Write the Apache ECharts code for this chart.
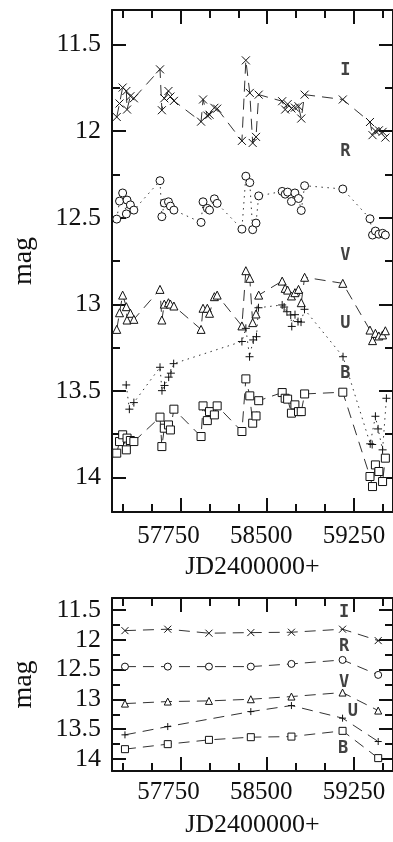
<!DOCTYPE html>
<html>
<head>
<meta charset="utf-8">
<script src="https://cdn.jsdelivr.net/npm/echarts@6/dist/echarts.min.js"></script>
<style>
html, body { margin: 0; padding: 0; background: #fff; }
#chart { width: 393px; height: 842px; }
</style>
</head>
<body>
<div id="chart"></div>
<script>
// nights observed in U B V R I (top panel); U has its own list
var jd = [57199, 57223, 57250, 57282, 57288, 57317, 57347,
  57573, 57589, 57610, 57646, 57663, 57693,
  57928, 57945, 57982, 58001, 58043, 58067,
  58281, 58315, 58349, 58374, 58403, 58426,
  58629, 58655, 58676, 58709, 58739, 58770, 58794, 58823,
  59153,
  59388, 59410, 59435, 59465, 59497, 59521];
var magI = [11.918, 11.84, 11.748, 11.768, 11.875, 11.798, 11.81,
  11.643, 11.879, 11.81, 11.768, 11.80, 11.825,
  11.945, 11.817, 11.91, 11.905, 11.865, 11.87,
  12.056, 11.591, 11.779, 12.068, 12.033, 11.789,
  11.827, 11.875, 11.844, 11.869, 11.864, 11.856, 11.927, 11.789,
  11.817,
  11.947, 12.023, 11.999, 11.995, 12.004, 12.037];
var magR = [12.508, 12.404, 12.357, 12.478, 12.398, 12.426, 12.456,
  12.286, 12.494, 12.415, 12.408, 12.433, 12.456,
  12.527, 12.408, 12.446, 12.456, 12.391, 12.417,
  12.566, 12.26, 12.297, 12.569, 12.531, 12.374,
  12.348, 12.364, 12.352, 12.406, 12.357, 12.389, 12.458, 12.315,
  12.334,
  12.506, 12.60, 12.577, 12.595, 12.59, 12.60];
var magV = [13.145, 13.049, 12.947, 13.014, 13.091, 13.052, 13.087,
  12.914, 13.091, 12.999, 12.991, 12.999, 13.01,
  13.145, 13.023, 13.023, 13.052, 12.956, 12.947,
  13.125, 12.806, 12.85, 13.106, 13.056, 12.947,
  12.866, 12.908, 12.918, 12.952, 12.933, 12.914, 12.991, 12.844,
  12.879,
  13.149, 13.21, 13.168, 13.183, 13.177, 13.153];
var magB = [13.86, 13.793, 13.754, 13.841, 13.773, 13.787, 13.793,
  13.652, 13.822, 13.716, 13.697, 13.726, 13.606,
  13.764, 13.587, 13.672, 13.62, 13.639, 13.587,
  13.735, 13.431, 13.529, 13.687, 13.645, 13.557,
  13.51, 13.543, 13.548, 13.629, 13.581, 13.62, 13.62, 13.518,
  13.508,
  13.995, 14.053, 13.928, 13.966, 14.024, 13.889];
var jdU = [57281, 57308, 57347, 57573, 57590, 57612, 57648, 57667, 57691,
  58281, 58315, 58347, 58379, 58407, 58424,
  58629, 58646, 58670, 58703, 58712, 58740, 58766, 58792, 58822,
  59155,
  59390, 59407, 59435, 59458, 59497, 59530];
var magU = [13.466, 13.606, 13.568, 13.364, 13.499, 13.469, 13.421, 13.398, 13.343,
  13.215, 13.139, 13.303, 13.206, 13.187, 13.02,
  13.004, 13.016, 13.043, 13.062, 13.128, 13.06, 13.10, 13.103, 13.029,
  13.303,
  13.806, 13.81, 13.647, 13.72, 13.841, 13.543];

// seasonal means (bottom panel)
var jdMean = [57270, 57640, 57996, 58358, 58709, 59151, 59459];
var meanI = [11.847, 11.823, 11.89, 11.88, 11.874, 11.823, 12.014];
var meanR = [12.45, 12.45, 12.45, 12.45, 12.405, 12.338, 12.589];
var meanV = [13.07, 13.036, 13.025, 12.997, 12.952, 12.885, 13.187];
var meanB = [13.834, 13.75, 13.678, 13.633, 13.623, 13.527, 13.984];
var jdMeanU = [57270, 57640, 58358, 58709, 59151, 59459];
var meanU = [13.594, 13.455, 13.204, 13.103, 13.314, 13.706];

var bands = ['I', 'R', 'V', 'U', 'B'];
var majorX = [57750, 58500, 59250];
var minorX = [57250, 57500, 58000, 58250, 58750, 59000, 59500];
var majorY = [11.5, 12, 12.5, 13, 13.5, 14];
var minorY = [11.75, 12.25, 12.75, 13.25, 13.75];

function pairs(xs, ys) {
  return xs.map(function (x, i) { return [x, ys[i]]; });
}

var serif = 'Liberation Serif';
var ink = '#111';
var X_MIN = 57158, X_MAX = 59587;

function xAxes(g, last) {
  var base = { gridIndex: g, type: 'value', min: X_MIN, max: X_MAX, splitLine: { show: false } };
  var lbl = {
    customValues: majorX, color: ink, fontFamily: serif, fontSize: 25, margin: last ? 9 : 12,
    formatter: function (v) { return '{s' + v + '|' + v + '}'; },
    rich: {
      s57750: { padding: [0, 24, 0, 0], fontFamily: serif, fontSize: 25, color: ink },
      s58500: { padding: [0, 12, 0, 0], fontFamily: serif, fontSize: 25, color: ink },
      s59250: { fontFamily: serif, fontSize: 25, color: ink }
    }
  };
  var line = { lineStyle: { color: ink, width: 2 } };
  return [
    Object.assign({}, base, {
      position: 'bottom', axisLine: line,
      axisTick: { inside: true, length: 14, customValues: majorX, lineStyle: { color: ink, width: 2 } },
      axisLabel: lbl,
      name: 'JD2400000+', nameLocation: 'middle', nameGap: 41,
      nameTextStyle: { fontFamily: serif, fontSize: 26, color: ink }
    }),
    Object.assign({}, base, {
      position: 'bottom', axisLine: { show: false },
      axisTick: { inside: true, length: 8, customValues: minorX, lineStyle: { color: ink, width: 2 } },
      axisLabel: { show: false }
    }),
    Object.assign({}, base, {
      position: 'top', axisLine: line,
      axisTick: { inside: true, length: 14, customValues: majorX, lineStyle: { color: ink, width: 2 } },
      axisLabel: { show: false }
    }),
    Object.assign({}, base, {
      position: 'top', axisLine: { show: false },
      axisTick: { inside: true, length: 8, customValues: minorX, lineStyle: { color: ink, width: 2 } },
      axisLabel: { show: false }
    })
  ];
}

function yAxes(g) {
  var base = { gridIndex: g, type: 'value', min: 11.3, max: 14.2, inverse: true, splitLine: { show: false } };
  var line = { lineStyle: { color: ink, width: 2 } };
  return [
    Object.assign({}, base, {
      position: 'left', axisLine: line,
      axisTick: { inside: true, length: 14, customValues: majorY, lineStyle: { color: ink, width: 2 } },
      axisLabel: { customValues: majorY, color: ink, fontFamily: serif, fontSize: 26, margin: 11 },
      name: 'mag', nameLocation: 'middle', nameGap: 74, nameRotate: 90,
      nameTextStyle: { fontFamily: serif, fontSize: 28, color: ink }
    }),
    Object.assign({}, base, {
      position: 'left', axisLine: { show: false },
      axisTick: { inside: true, length: 8, customValues: minorY, lineStyle: { color: ink, width: 2 } },
      axisLabel: { show: false }
    }),
    Object.assign({}, base, {
      position: 'right', axisLine: line,
      axisTick: { inside: true, length: 14, customValues: majorY, lineStyle: { color: ink, width: 2 } },
      axisLabel: { show: false }
    }),
    Object.assign({}, base, {
      position: 'right', axisLine: { show: false },
      axisTick: { inside: true, length: 8, customValues: minorY, lineStyle: { color: ink, width: 2 } },
      axisLabel: { show: false }
    })
  ];
}

var CROSS = 'path://M0,0L10,10M10,0L0,10';
var PLUS = 'path://M5,0L5,10M0,5L10,5';
var DASH = [11, 7];
var DOT = [1.5, 4.5];

function band(g, name, data, symbol, size, dash) {
  return {
    type: 'line', name: name, xAxisIndex: g * 4, yAxisIndex: g * 4,
    data: data, symbol: symbol, symbolSize: size, showAllSymbol: true,
    lineStyle: { color: '#333', width: 1, type: dash },
    itemStyle: { color: '#fff', borderColor: '#111', borderWidth: 1 },
    z: 3
  };
}

function tags(g, pts) {
  return {
    type: 'scatter', xAxisIndex: g * 4, yAxisIndex: g * 4, symbolSize: 0, silent: true,
    data: pts,
    label: {
      show: true, position: 'inside', formatter: function (p) { return p.value[2]; },
      fontFamily: 'DejaVu Sans Mono', fontWeight: 'bold', fontSize: 17, color: '#111'
    }
  };
}

var chart = echarts.init(document.getElementById('chart'), null, { renderer: 'canvas' });
chart.setOption({
  animation: false,
  backgroundColor: '#fff',
  grid: [
    { left: 112, right: -3, top: 10, height: 502 },
    { left: 112, right: -3, top: 598, height: 173 }
  ],
  xAxis: xAxes(0, false).concat(xAxes(1, true)),
  yAxis: yAxes(0).concat(yAxes(1)),
  series: [
    band(0, 'I', pairs(jd, magI), CROSS, 8, DASH),
    band(0, 'R', pairs(jd, magR), 'circle', 8, DOT),
    band(0, 'V', pairs(jd, magV), 'triangle', 8, DASH),
    band(0, 'U', pairs(jdU, magU), PLUS, 8, DOT),
    band(0, 'B', pairs(jd, magB), 'rect', 8, DASH),
    band(1, 'I', pairs(jdMean, meanI), CROSS, 7, DASH),
    band(1, 'R', pairs(jdMean, meanR), 'circle', 7, DASH),
    band(1, 'V', pairs(jdMean, meanV), 'triangle', 7, DASH),
    band(1, 'U', pairs(jdMeanU, meanU), PLUS, 7, DASH),
    band(1, 'B', pairs(jdMean, meanB), 'rect', 7, DASH),
    tags(0, [[59175, 11.65, bands[0]], [59175, 12.12, bands[1]], [59175, 12.72, bands[2]],
             [59175, 13.11, bands[3]], [59175, 13.40, bands[4]]]),
    tags(1, [[59165, 11.55, bands[0]], [59165, 12.12, bands[1]], [59165, 12.72, bands[2]],
             [59240, 13.21, bands[3]], [59155, 13.83, bands[4]]])
  ]
});
</script>
</body>
</html>
